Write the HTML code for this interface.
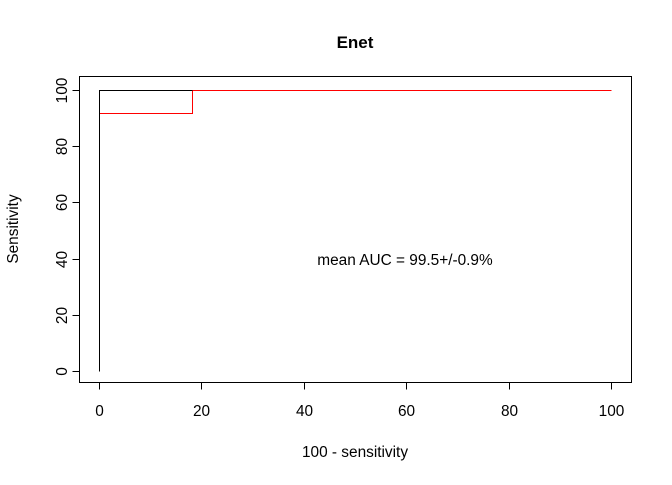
<!DOCTYPE html>
<html><head><meta charset="utf-8"><style>
body{margin:0;background:#fff;width:672px;height:480px;overflow:hidden}
text{font-family:"Liberation Sans",Arial,sans-serif;fill:#000}
</style></head><body>
<svg id="c" width="672" height="480"></svg>
<script>
const xTicks=[0,20,40,60,80,100];
const yTicks=[0,20,40,60,80,100];
const blackX=[0,0,18.2];
const blackY=[0,100,100];
const redX=[0,0,18.2,18.2,100];
const redY=[0,91.8,91.8,100,100];
const aucLabel="mean AUC = 99.5+/-0.9%";
const ns="http://www.w3.org/2000/svg";
const svg=document.getElementById('c');
const X=v=>Math.round(99+v*5.12)+0.5, Y=v=>Math.round(371-v*2.81)+0.5;
function el(t,a,p){const e=document.createElementNS(ns,t);for(const k in a)e.setAttribute(k,a[k]);(p||svg).appendChild(e);return e;}
let box=el('rect',{x:79.5,y:76.5,width:552,height:306,fill:'none',stroke:'#000'});


let t=el('text',{x:355,y:48,'text-anchor':'middle','font-size':17,'font-weight':'bold'});t.textContent='Enet';


let xa=el('line',{x1:X(0),x2:X(100),y1:382.5,y2:382.5,stroke:'#000'});


xTicks.forEach(v=>{el('line',{x1:X(v),x2:X(v),y1:382.5,y2:389.5,stroke:'#000'});
 const tx=el('text',{x:X(v),y:416,'text-anchor':'middle','font-size':15.4});tx.textContent=v;
 
 });
let ya=el('line',{x1:79.5,x2:79.5,y1:Y(0),y2:Y(100),stroke:'#000'});


yTicks.forEach(v=>{el('line',{x1:72.5,x2:79.5,y1:Y(v),y2:Y(v),stroke:'#000'});
 const ty=el('text',{x:0,y:0,'text-anchor':'middle','font-size':15.4,transform:`translate(67,${Y(v)}) rotate(-90)`});ty.textContent=v;
 
 });
let xt=el('text',{x:355,y:457,'text-anchor':'middle','font-size':15.4});xt.textContent='100 - sensitivity';


let yt=el('text',{x:0,y:0,'text-anchor':'middle','font-size':15.4,transform:'translate(18,229) rotate(-90)'});yt.textContent='Sensitivity';


const pts=(xs,ys)=>xs.map((x,i)=>X(x)+','+Y(ys[i])).join(' ');
let r=el('polyline',{points:pts(redX,redY),fill:'none',stroke:'#f00','stroke-width':1,'shape-rendering':'crispEdges'});


let b=el('polyline',{points:pts(blackX,blackY),fill:'none',stroke:'#000','stroke-width':1,'shape-rendering':'crispEdges'});


let a=el('text',{x:405,y:265,'text-anchor':'middle','font-size':15.4});a.textContent=aucLabel;


</script>
</body></html>
